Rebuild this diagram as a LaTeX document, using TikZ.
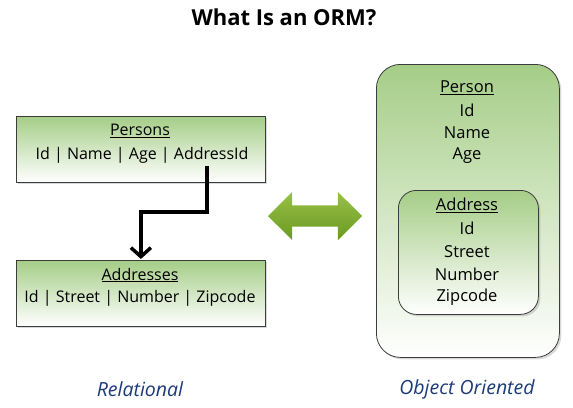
\documentclass[tikz,border=0pt]{standalone}
\usepackage{fontspec}
\setmainfont{Open Sans}
\usepackage{tikz}
\usetikzlibrary{arrows.meta, shapes.arrows, shadows}
\usepackage{xcolor}
\definecolor{orm_green}{HTML}{A5CD87}
\definecolor{arrow_light}{HTML}{98C046}
\definecolor{arrow_dark}{HTML}{6A9A22}
\definecolor{label_blue}{HTML}{1C3A78}
\definecolor{frame_gray}{HTML}{3C3C3C}

\begin{document}
\begin{tikzpicture}[
    x=1pt, y=-1pt,
    box/.style={draw=frame_gray, line width=0.8pt, top color=orm_green, bottom color=white,
        drop shadow={shadow xshift=2pt, shadow yshift=-2pt, opacity=0.3}, anchor=north west, inner sep=0pt},
    txt/.style={font=\fontsize{16}{18}\selectfont},
    objtxt/.style={font=\fontsize{16.5}{19}\selectfont},
    caption/.style={font=\fontsize{19.5}{22}\selectfont\itshape, text=label_blue}
]
	\useasboundingbox (0,0) rectangle (573,407);
	\node[font=\fontsize{22}{25}\selectfont\bfseries] (title) at (284,17) {What Is an ORM?};

	% relational side
	\node[box, minimum width=249pt, minimum height=66pt] (persons) at (16,116) {};
	\node[txt] (personshead) at (140,131) {\underline{Persons}};
	\node[txt] (personsfields) at (142,155) {Id | Name | Age | AddressId};
	\node[box, minimum width=249pt, minimum height=66pt] (addresses) at (16,260) {};
	\node[txt] (addresseshead) at (140,275) {\underline{Addresses}};
	\node[txt] (addressesfields) at (140,298) {Id | Street | Number | Zipcode};
	\coordinate (fk) at (207,166);
	\draw [line width=3.5pt, -{Straight Barb[length=9pt, width=20pt]}, shorten >=1pt] (fk) -- ++(0,46) -| (addresses.north);

	% mapping arrow
	\node[double arrow, minimum height=94pt, inner xsep=0pt, inner ysep=10.5pt, double arrow head extend=13.5pt,
	    top color=arrow_light, bottom color=arrow_dark] (mapping) at (315,216) {};

	% object side
	\node[box, rounded corners=24pt, minimum width=183pt, minimum height=293pt] (person) at (376,64) {};
	\node[box, rounded corners=18pt, minimum width=140pt, minimum height=124pt] (address) at (398,190) {};
	\foreach \f [count=\i] in {\underline{Person},Id,Name,Age}
	    \node[objtxt] (personfield\i) at (467,65+\i*22.7) {\f};
	\foreach \f [count=\i] in {\underline{Address},Id,Street,Number,Zipcode}
	    \node[objtxt] (addressfield\i) at (467,183+\i*22.75) {\f};

	\node[caption] (relational) at (140,389) {Relational};
	\node[caption] (objectoriented) at (467,389) {Object Oriented};
\end{tikzpicture}
\end{document}
